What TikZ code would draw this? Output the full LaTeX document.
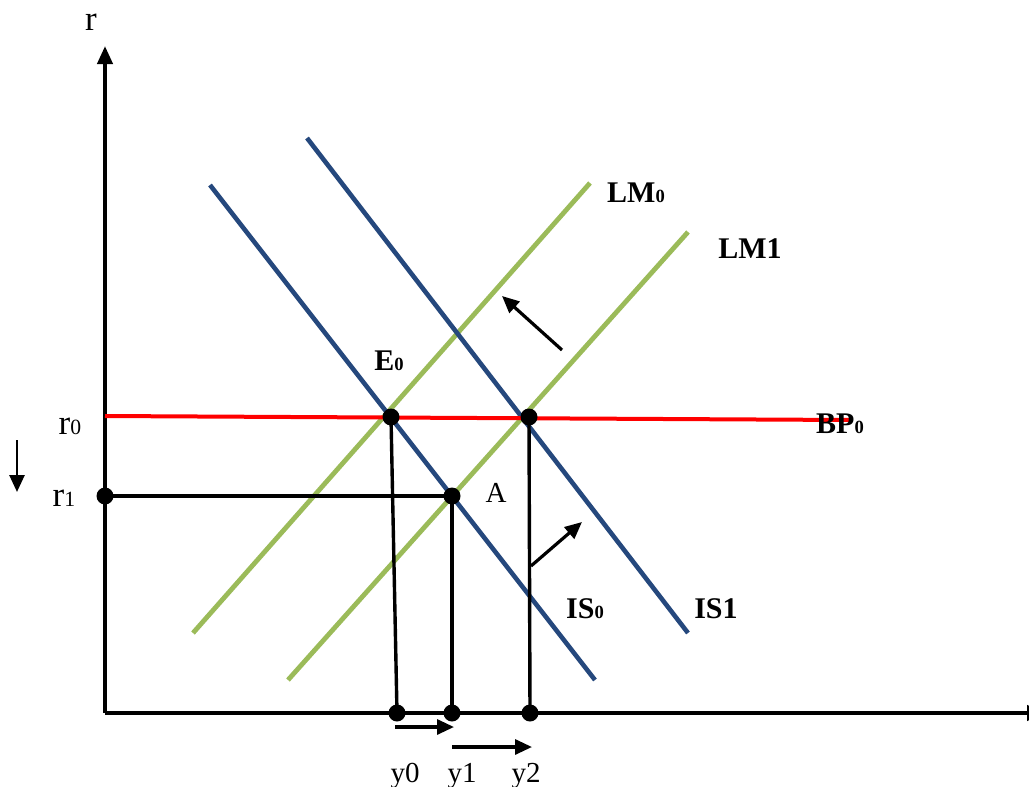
\documentclass[tikz,border=0pt]{standalone}
\usepackage{fontspec}
\setmainfont{Liberation Serif}
\usetikzlibrary{arrows.meta}
\definecolor{isblue}{RGB}{37,72,125}
\definecolor{lmgreen}{RGB}{155,187,89}
\newcommand{\sbs}[1]{\scalebox{0.62}{#1}}
\tikzset{
  axis/.style={line width=4pt, -{Triangle[length=18pt,width=15pt]}},
  isline/.style={isblue, line width=4.6pt},
  lmline/.style={lmgreen, line width=4.8pt},
  bpline/.style={red, line width=4pt},
  guide/.style={black, line width=3.4pt},
  shiftarrow/.style={black, line width=3.2pt, -{Triangle[length=17pt,width=15pt]}},
  dot/.style={circle, fill=black, inner sep=0pt, minimum size=17pt},
  lab/.style={font=\fontsize{29}{29}\selectfont, inner sep=0pt},
  rlab/.style={font=\fontsize{35}{35}\selectfont, inner sep=0pt},
  blab/.style={font=\fontsize{30}{30}\selectfont\bfseries, inner sep=0pt},
}
\begin{document}
\begin{tikzpicture}[x=1pt,y=-1pt]
\useasboundingbox (0,0) rectangle (1029,787);
% axes
\coordinate (O) at (105,713);
\coordinate (ytop) at (105,46);
\coordinate (xend) at (1045,713);
\draw[axis] (O) -- (ytop);
\draw[axis] (O) -- (xend);
\node[rlab] (rlabel) at (91,22) {r};
% curves
\coordinate (is0a) at (210,185); \coordinate (is0b) at (595,680);
\coordinate (is1a) at (307,138); \coordinate (is1b) at (688,633);
\coordinate (lm0a) at (193,633); \coordinate (lm0b) at (590,183);
\coordinate (lm1a) at (288,680); \coordinate (lm1b) at (688,232);
\coordinate (bpa) at (105,416); \coordinate (bpb) at (850,420);
\draw[lmline] (lm0a) -- (lm0b);
\draw[lmline] (lm1a) -- (lm1b);
\draw[isline] (is0a) -- (is0b);
\draw[isline] (is1a) -- (is1b);
\draw[bpline] (bpa) -- (bpb);
% points
\coordinate (E0) at (391,417);
\coordinate (E1) at (529,417);
\coordinate (A) at (452,496);
\coordinate (r1p) at (105,496);
\coordinate (y0p) at (397,713);
\coordinate (y1p) at (452,713);
\coordinate (y2p) at (530,713);
\draw[guide] (E0) -- (y0p);
\draw[guide] (A) -- (y1p);
\draw[guide] (E1) -- (y2p);
\draw[guide] (r1p) -- (A);
\foreach \p in {E0,E1,A,r1p,y0p,y1p,y2p} \node[dot] at (\p) {};
% shift arrows
\coordinate (dna) at (17,440); \coordinate (dnb) at (17,492);
\draw[shiftarrow, line width=2.6pt] (dna) -- (dnb);
\coordinate (lmsa) at (562,350); \coordinate (lmsb) at (502,296);
\draw[shiftarrow] (lmsa) -- (lmsb);
\coordinate (issa) at (531,566); \coordinate (issb) at (582,522);
\draw[shiftarrow] (issa) -- (issb);
\coordinate (ya0) at (395,727); \coordinate (ya1) at (454,727);
\draw[shiftarrow] (ya0) -- (ya1);
\coordinate (yb0) at (452,747); \coordinate (yb1) at (532,747);
\draw[shiftarrow] (yb0) -- (yb1);
% labels
\node[rlab, anchor=base] (r0lab) at (70,434) {r\sbs{0}};
\node[rlab, anchor=base] (r1lab) at (64,506) {r\sbs{1}};
\node[blab, anchor=base] (E0lab) at (389,370) {E\sbs{0}};
\node[lab, anchor=base] (Alab) at (496,502) {A};
\node[blab, anchor=base] (LM0lab) at (636,202) {LM\sbs{0}};
\node[blab, anchor=base] (LM1lab) at (750,258) {LM1};
\node[blab, anchor=base] (BP0lab) at (840,433) {BP\sbs{0}};
\node[blab, anchor=base] (IS0lab) at (585,618) {IS\sbs{0}};
\node[blab, anchor=base] (IS1lab) at (716,618) {IS1};
\node[lab, anchor=base] (y0lab) at (405,782) {y0};
\node[lab, anchor=base] (y1lab) at (462,782) {y1};
\node[lab, anchor=base] (y2lab) at (526,782) {y2};
\end{tikzpicture}
\end{document}
